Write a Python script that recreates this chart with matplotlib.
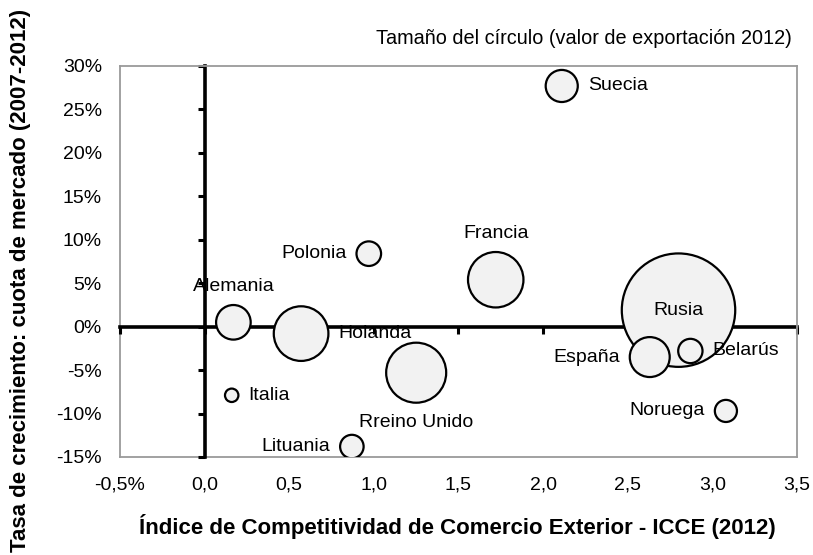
import matplotlib
matplotlib.use('Agg')
import numpy as np
import matplotlib.pyplot as plt

plt.rcParams['font.family'] = ['Liberation Sans', 'DejaVu Sans']
plt.rcParams['axes.unicode_minus'] = False

# data
countries = ['Suecia', 'Francia', 'Rusia', 'España', 'Belarús', 'Noruega',
             'Rreino Unido', 'Holanda', 'Alemania', 'Polonia', 'Italia',
             'Lituania']
icce = [2.11, 1.72, 2.80, 2.63, 2.87, 3.08, 1.25, 0.57, 0.17, 0.97, 0.16,
        0.87]
growth = [27.7, 5.4, 1.9, -3.5, -2.8, -9.7, -5.3, -0.8, 0.5, 8.4, -7.9,
          -13.8]
export_value = [8.0, 23.9, 100.0, 12.4, 4.6, 3.8, 28.0, 23.2, 9.3, 4.7, 1.4,
                4.3]
label_pos = ['right', 'above', 'center', 'left', 'right', 'left', 'below',
             'right', 'above', 'left', 'right', 'left']

xticks = [-0.5, 0.0, 0.5, 1.0, 1.5, 2.0, 2.5, 3.0, 3.5]
xtick_labels = ['-0,5%', '0,0', '0,5', '1,0', '1,5', '2,0', '2,5', '3,0',
                '3,5']
yticks = [-15, -10, -5, 0, 5, 10, 15, 20, 25, 30]
ytick_labels = ['%d%%' % v for v in yticks]

fig = plt.figure(figsize=(8.13, 5.55), dpi=100)
ax = fig.add_axes([0.1476, 0.1766, 0.8327, 0.7045])
ax.set_xlim(-0.5, 3.5)
ax.set_ylim(-15, 30)

# axes crossing at zero
for side in ['left', 'bottom']:
    ax.spines[side].set_position(('data', 0))
    ax.spines[side].set_color('black')
    ax.spines[side].set_linewidth(2.6)
    ax.spines[side].set_zorder(2)
for side in ['top', 'right']:
    ax.spines[side].set_color('#9a9a9a')
    ax.spines[side].set_linewidth(1.3)
ax.set_xticks(xticks)
ax.set_yticks(yticks)
ax.tick_params(direction='out', length=5, width=2.2, color='black',
               labelleft=False, labelbottom=False)

# tick labels sit on the plot border
sec_x = ax.secondary_xaxis('bottom')
sec_x.set_xticks(xticks, xtick_labels)
sec_x.tick_params(length=0, pad=14, labelsize=14)
sec_x.spines['bottom'].set_color('#9a9a9a')
sec_x.spines['bottom'].set_linewidth(1.3)
sec_y = ax.secondary_yaxis('left')
sec_y.set_yticks(yticks, ytick_labels)
sec_y.tick_params(length=0, pad=13, labelsize=14)
sec_y.spines['left'].set_color('#9a9a9a')
sec_y.spines['left'].set_linewidth(1.3)

sizes = np.array(export_value) * 66.7
ax.scatter(icce, growth, s=sizes, facecolor='#f2f2f2', edgecolor='black',
           linewidth=1.6, zorder=3)

gap = 7.2
for name, x, y, s, pos in zip(countries, icce, growth, sizes, label_pos):
    r = np.sqrt(s) / 2
    if pos == 'right':
        off, ha = (r + gap, 0), 'left'
    elif pos == 'left':
        off, ha = (-r - gap, 0), 'right'
    elif pos == 'above':
        off, ha = (0, r + 13.5), 'center'
    elif pos == 'below':
        off, ha = (0, -r - 14.5), 'center'
    else:
        off, ha = (0, 0), 'center'
    ax.annotate(name, (x, y), xytext=off, textcoords='offset points',
                ha=ha, va='center', fontsize=14, zorder=4)

fig.text(0.974, 0.9207, 'Tamaño del círculo (valor de exportación 2012)',
         ha='right', va='baseline', fontsize=14.3)
fig.text(0.563, 0.0373,
         'Índice de Competitividad de Comercio Exterior - ICCE (2012)',
         ha='center', va='baseline', fontsize=16, fontweight='bold')
fig.text(0.025, 0.494, 'Tasa de crecimiento: cuota de mercado (2007-2012)',
         ha='center', va='center', rotation=90, fontsize=16,
         fontweight='bold')

fig.savefig('out.png', dpi=100)
